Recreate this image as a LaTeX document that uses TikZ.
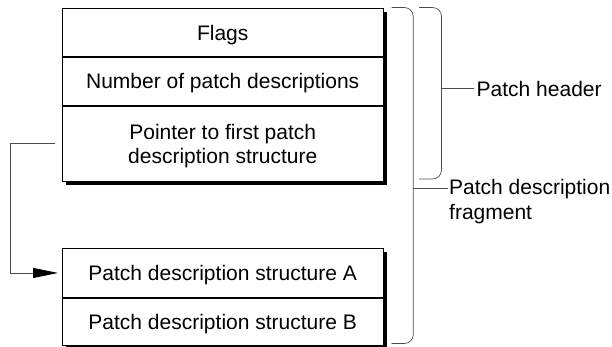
\documentclass[tikz,border=0pt]{standalone}
\usepackage{fontspec}
\setmainfont{Liberation Sans}
\usetikzlibrary{arrows.meta,backgrounds}
\begin{document}
\begin{tikzpicture}[x=1pt,y=-1pt,
  row/.style={draw=black, line width=0.9pt, fill=white, minimum width=320.5pt,
    inner sep=0pt, align=center, text depth=0pt,
    font=\fontsize{21}{24}\selectfont, anchor=north west},
  brk/.style={draw=black!70, line width=0.7pt, rounded corners=9pt},
  tick/.style={draw=black!70, line width=0.7pt},
  conn/.style={draw=black!70, line width=0.8pt,
    -{Triangle[length=25pt,width=10pt,fill=black,color=black]}},
  lbl/.style={font=\fontsize{21}{25}\selectfont, align=left, anchor=west,
    inner sep=0pt, text depth=0pt},
  shade/.style={fill=black}]
\useasboundingbox (0,0) rectangle (612,346);

% top structure
\node[row, minimum height=48pt] (flags) at (62,8) {Flags};
\node[row, minimum height=48pt] (num) at (flags.south west) {Number of patch descriptions};
\node[row, minimum height=75pt] (ptr) at (num.south west) {Pointer to first patch\\description structure};

% bottom structure
\node[row, minimum height=49pt] (sa) at (62,248) {Patch description structure A};
\node[row, minimum height=47pt] (sb) at (sa.south west) {Patch description structure B};

% shadows
\begin{scope}[on background layer]
  \fill[shade] ([xshift=3.5pt,yshift=-3.5pt]flags.north west) rectangle ([xshift=3.5pt,yshift=-3.5pt]ptr.south east);
  \fill[shade] ([xshift=3.5pt,yshift=-3.5pt]sa.north west) rectangle ([xshift=3.5pt,yshift=-3.5pt]sb.south east);
\end{scope}

% pointer connector
\coordinate (p0) at ([xshift=-7pt]ptr.west);
\coordinate (p1) at ([xshift=-4pt]sa.west);
\draw[conn] (p0) -- ++(-45,0) |- (p1);

% brackets
\draw[brk] (419,7.5) -- (441.5,7.5) -- (441.5,179) -- (419,179);
\draw[brk] (391.5,7.5) -- (413.3,7.5) -- (413.3,343.5) -- (391.5,343.5);

% labels
\node[lbl] (hdr) at (476.5,88.5) {Patch header};
\node[lbl] (frag) at (449,199.8) {Patch description\\fragment};
\coordinate (ht) at (441.5,88.5);
\coordinate (ft) at (413.3,188.3);
\draw[tick] (ht) -- ([xshift=-3pt]hdr.west);
\draw[tick] (ft) -- ([xshift=-1.5pt]ft -| frag.west);
\end{tikzpicture}
\end{document}
